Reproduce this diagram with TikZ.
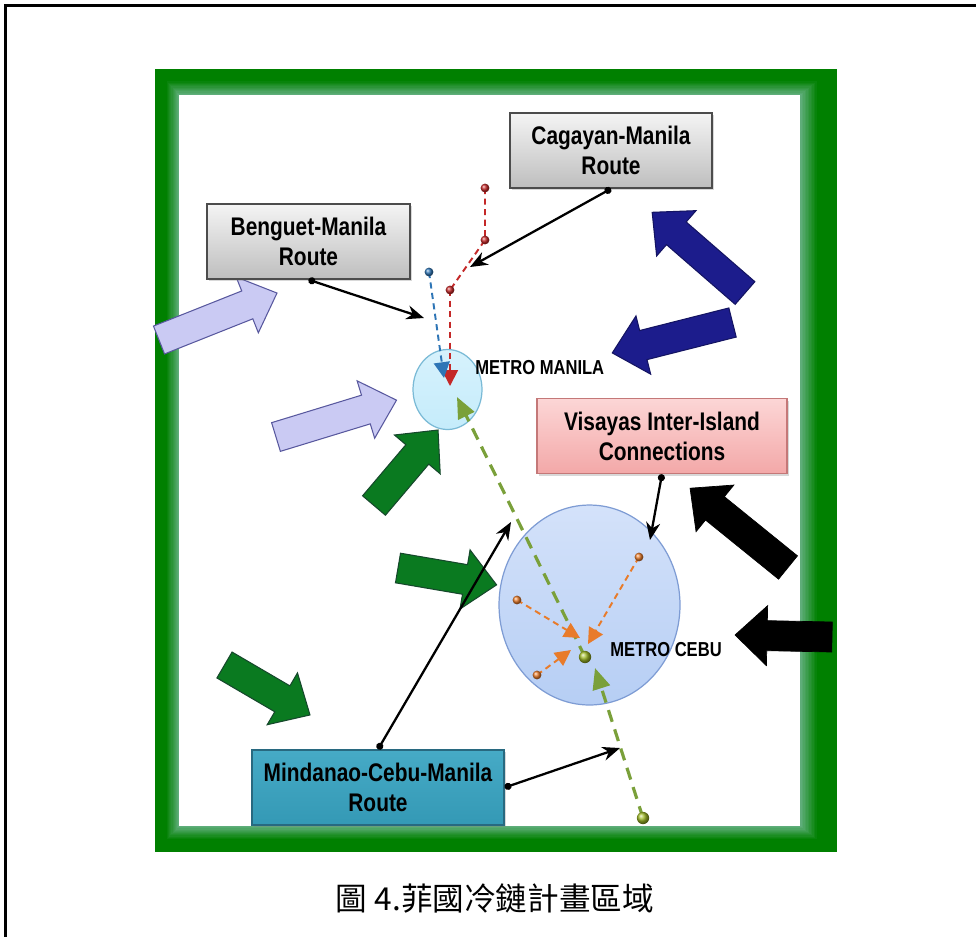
\documentclass[tikz,border=0pt]{standalone}
\usepackage{fontspec}
\setmainfont{Liberation Sans}
\newfontfamily\boxfont[FakeStretch=0.82]{Liberation Sans}
\newfontfamily\cjk{Noto Sans CJK TC}
\usetikzlibrary{calc,arrows.meta,shapes.geometric,shadows}

\definecolor{framegreen}{RGB}{0,128,0}
\definecolor{framelight}{RGB}{104,178,134}
\definecolor{lavender}{RGB}{202,202,243}
\definecolor{lavenderline}{RGB}{88,88,158}
\definecolor{leafgreen}{RGB}{10,122,32}
\definecolor{leafline}{RGB}{22,72,44}
\definecolor{navy}{RGB}{28,28,140}
\definecolor{boxtop}{RGB}{244,244,244}
\definecolor{boxbottom}{RGB}{190,190,190}
\definecolor{pinktop}{RGB}{252,214,214}
\definecolor{pinkbottom}{RGB}{243,168,168}
\definecolor{pinkline}{RGB}{196,120,120}
\definecolor{tealtop}{RGB}{70,170,198}
\definecolor{tealbottom}{RGB}{52,153,181}
\definecolor{tealline}{RGB}{40,105,128}
\definecolor{manilafill}{RGB}{197,236,251}
\definecolor{manilaline}{RGB}{122,186,214}
\definecolor{cebutop}{RGB}{212,226,250}
\definecolor{cebubottom}{RGB}{182,206,244}
\definecolor{cebuline}{RGB}{126,156,212}
\definecolor{routered}{RGB}{196,40,40}
\definecolor{routeblue}{RGB}{46,117,182}
\definecolor{routegreen}{RGB}{122,160,58}
\definecolor{routeorange}{RGB}{232,123,42}

% fat arrow: tail point, angle and length (in pixels of the plan)
\def\fatarrow[#1](#2)(#3:#4){%
  \begin{scope}[shift={(#2)},rotate=#3]
    \draw[#1] (0,-15) -- ({#4-32},-15) -- ({#4-32},-30) -- (#4,0) -- ({#4-32},30) -- ({#4-32},15) -- (0,15) -- cycle;
  \end{scope}}

\tikzset{
  routebox/.style={draw, line width=0.8pt, minimum width=#1, minimum height=1.5cm, inner sep=0pt,
    align=center, font=\boxfont\bfseries\fontsize{14.5}{17}\selectfont,
    drop shadow={opacity=0.3,shadow xshift=1.2pt,shadow yshift=-1.2pt}},
  citylabel/.style={anchor=west, inner sep=0pt, font=\boxfont\bfseries\fontsize{11.5}{12}\selectfont},
  pointer/.style={line width=1.3pt, arrows={Circle[length=4pt]-Stealth[length=10pt,width=8pt]}},
  smalldash/.style={line width=1.1pt, dash pattern=on 3.5pt off 2.5pt, -{Triangle[length=9pt,width=9pt]}},
  bigdash/.style={line width=1.8pt, color=routegreen, dash pattern=on 7pt off 4.5pt, -{Triangle[length=12pt,width=10pt]}}
}

\begin{document}
\begin{tikzpicture}[x=0.02cm,y=-0.02cm]
  \useasboundingbox (0,0) rectangle (976,937);

  %%%%% frame %%%%%
  \draw[line width=1.7pt] (976,5.5) -- (5.5,5.5) -- (5.5,937);
  \fill[framegreen] (155,69) rectangle (837,852);
  \foreach \k in {0,...,12}{
    \pgfmathtruncatemacro\mix{\k*100/12}
    \fill[framelight!\mix!framegreen] ({166+\k*13/12},{80+\k*15/12}) rectangle ({818-\k*18/12},{840-\k*14/12});
  }
  \fill[white] (179,95) rectangle (800,826);

  %%%%% fat arrows %%%%%
  \fatarrow[fill=lavender, draw=lavenderline, line width=0.6pt](159,340)(21.7:127);
  \fatarrow[fill=lavender, draw=lavenderline, line width=0.6pt](276,437)(17:126);
  \fatarrow[fill=leafgreen, draw=leafline, line width=0.6pt](374,505.5)(49.7:99);
  \fatarrow[fill=leafgreen, draw=leafline, line width=0.6pt](398,568)(-9.7:100);
  \fatarrow[fill=leafgreen, draw=leafline, line width=0.6pt](224.5,665)(-30.3:99);
  \fatarrow[fill=navy, draw=navy!70!black, line width=0.6pt](745,293)(139:123);
  \fatarrow[fill=navy, draw=navy!70!black, line width=0.6pt](732.5,322.5)(194.2:124);
  \fatarrow[fill=black](788,567.5)(141:126);
  \fatarrow[fill=black](832,637)(178.8:97);

  %%%%% cities %%%%%
  \node[ellipse, draw=manilaline, line width=0.7pt, top color=manilafill!70!white, bottom color=manilafill,
        minimum width=1.38cm, minimum height=1.6cm, inner sep=0pt] (manila) at (447.5,389.5) {};
  \node[ellipse, draw=cebuline, line width=0.7pt, top color=cebutop, bottom color=cebubottom,
        minimum width=3.62cm, minimum height=4cm, inner sep=0pt] (cebu) at (589.5,605) {};
  \node[citylabel] (manilalabel) at (475,368) {METRO MANILA};
  \node[citylabel] (cebulabel) at (610,650) {METRO CEBU};

  %%%%% routes %%%%%
  \node[routebox=4.04cm, top color=boxtop, bottom color=boxbottom, draw=black!70] (cagayan) at (611,150.5) {Cagayan-Manila\\Route};
  \node[routebox=4.06cm, top color=boxtop, bottom color=boxbottom, draw=black!70] (benguet) at (308.5,241.5) {Benguet-Manila\\Route};
  \node[routebox=5cm, top color=pinktop, bottom color=pinkbottom, draw=pinkline] (visayas) at (662,436) {Visayas Inter-Island\\Connections};
  \node[routebox=5.04cm, top color=tealtop, bottom color=tealbottom, draw=tealline] (mindanao) at (378,787.5) {Mindanao-Cebu-Manila\\Route};

  %%%%% dashed legs %%%%%
  \coordinate (r1) at (485,188);
  \coordinate (r2) at (485,240);
  \coordinate (r3) at (450,290);
  \coordinate (r4) at (450,386);
  \coordinate (b1) at (429,272);
  \coordinate (b2) at (444,378);
  \coordinate (g1) at (585,657);
  \coordinate (g2) at (457,397);
  \coordinate (g3) at (643,818);
  \coordinate (g4) at (595,668);
  \coordinate (o1) at (639,557);
  \coordinate (o2) at (517,600);
  \coordinate (o3) at (537,675);
  \coordinate (o1end) at (588,644);
  \coordinate (o2end) at (580,638);
  \coordinate (o3end) at (571,650);

  \draw[routered, line width=1.1pt, dash pattern=on 3.5pt off 2.5pt] (r1) -- (r2) -- (r3);
  \draw[smalldash, routered] (r3) -- (r4);
  \draw[smalldash, routeblue] (b1) -- (b2);
  \draw[bigdash] (g1) -- (g2);
  \draw[bigdash] (g3) -- (g4);
  \draw[smalldash, routeorange] (o1) -- (o1end);
  \draw[smalldash, routeorange] (o2) -- (o2end);
  \draw[smalldash, routeorange] (o3) -- (o3end);

  \foreach \p in {r1,r2,r3}
    \shade[ball color=routered] (\p) circle (2.5pt);
  \shade[ball color=routeblue] (b1) circle (2.5pt);
  \foreach \p in {o1,o2,o3}
    \shade[ball color=routeorange] (\p) circle (2.5pt);
  \shade[ball color=routegreen!70!yellow] (g1) circle (3.5pt);
  \shade[ball color=routegreen!70!yellow] (g3) circle (3.5pt);

  %%%%% pointers %%%%%
  \coordinate (cagtip) at (470,267);
  \coordinate (bentip) at (424,318);
  \coordinate (vistip) at (650,540);
  \coordinate (mintop) at (511,522);
  \coordinate (minright) at (620,748);
  \draw[pointer] (cagayan.south) -- (cagtip);
  \draw[pointer] (benguet.south) -- (bentip);
  \draw[pointer] (visayas.south) -- (vistip);
  \draw[pointer] (mindanao.north) -- (mintop);
  \draw[pointer] (mindanao.east) -- (minright);

  %%%%% caption %%%%%
  \node[font=\cjk\fontsize{18}{20}\selectfont] (caption) at (495,898) {圖 4.菲國冷鏈計畫區域};
\end{tikzpicture}
\end{document}
